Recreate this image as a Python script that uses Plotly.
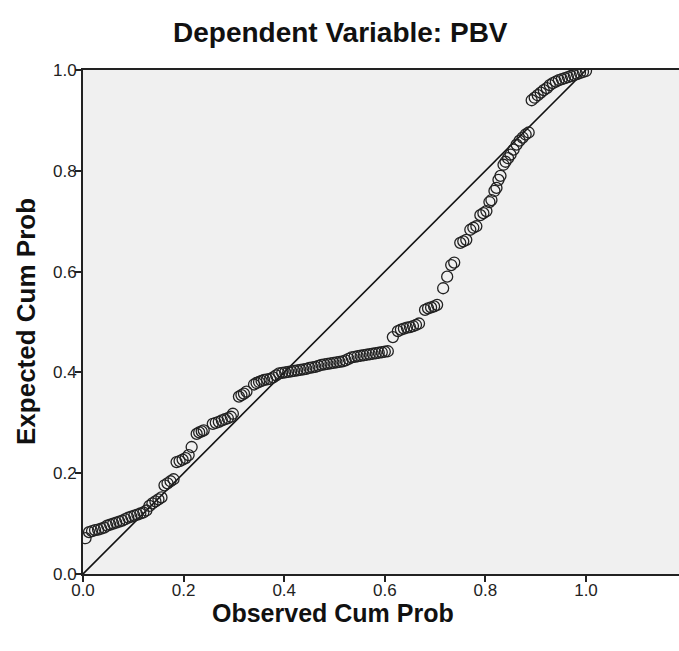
import plotly.graph_objects as go

observed = [
    0.005, 0.012, 0.018, 0.024, 0.030, 0.036, 0.042, 0.048, 0.054, 0.060,
    0.066, 0.072, 0.078, 0.084, 0.090, 0.096, 0.102, 0.108, 0.114, 0.120,
    0.126, 0.132, 0.138, 0.144, 0.150, 0.156, 0.162, 0.168, 0.174, 0.180,
    0.186, 0.192, 0.198, 0.204, 0.210, 0.216, 0.226, 0.231, 0.236, 0.240,
    0.258, 0.264, 0.270, 0.276, 0.282, 0.288, 0.294, 0.298,
    0.310, 0.315, 0.320, 0.325, 0.340, 0.345, 0.350, 0.355, 0.360, 0.366,
    0.372, 0.378, 0.384, 0.390, 0.396, 0.402, 0.408, 0.414, 0.420, 0.426,
    0.432, 0.438, 0.444, 0.450, 0.456, 0.462, 0.468, 0.474, 0.480, 0.486,
    0.492, 0.498, 0.504, 0.510, 0.516, 0.522, 0.528, 0.534, 0.540, 0.546,
    0.552, 0.558, 0.564, 0.570, 0.576, 0.582, 0.588, 0.594, 0.600, 0.606,
    0.616, 0.626, 0.632, 0.638, 0.644, 0.650, 0.656, 0.662, 0.668,
    0.680, 0.686, 0.692, 0.698, 0.704, 0.716, 0.724, 0.732, 0.738,
    0.750, 0.756, 0.762, 0.770, 0.776, 0.782, 0.790, 0.796, 0.802,
    0.808, 0.812, 0.818, 0.822, 0.826, 0.830, 0.836, 0.840, 0.845, 0.850,
    0.856, 0.862, 0.868, 0.874, 0.880, 0.886,
    0.892, 0.898, 0.904, 0.910, 0.916, 0.922, 0.928, 0.934, 0.940, 0.946,
    0.952, 0.958, 0.964, 0.970, 0.976, 0.982, 0.988, 0.994, 1.000,
]

expected = [
    0.071, 0.083, 0.085, 0.087, 0.088, 0.090, 0.092, 0.096, 0.098, 0.100,
    0.102, 0.104, 0.106, 0.109, 0.112, 0.114, 0.116, 0.118, 0.120, 0.122,
    0.126, 0.135, 0.140, 0.144, 0.148, 0.152, 0.176, 0.180, 0.184, 0.188,
    0.222, 0.224, 0.227, 0.230, 0.236, 0.252, 0.278, 0.281, 0.283, 0.285,
    0.298, 0.300, 0.302, 0.305, 0.307, 0.309, 0.312, 0.318,
    0.352, 0.355, 0.358, 0.362, 0.376, 0.379, 0.381, 0.383, 0.385, 0.386,
    0.387, 0.390, 0.394, 0.398, 0.399, 0.400, 0.401, 0.402, 0.403, 0.404,
    0.405, 0.406, 0.407, 0.409, 0.410, 0.411, 0.413, 0.415, 0.416, 0.417,
    0.418, 0.419, 0.420, 0.421, 0.422, 0.424, 0.427, 0.430, 0.431, 0.432,
    0.433, 0.434, 0.435, 0.436, 0.437, 0.438, 0.439, 0.440, 0.441, 0.442,
    0.470, 0.482, 0.485, 0.487, 0.489, 0.490, 0.492, 0.494, 0.497,
    0.524, 0.527, 0.529, 0.531, 0.534, 0.567, 0.590, 0.613, 0.618,
    0.657, 0.660, 0.663, 0.683, 0.687, 0.690, 0.712, 0.716, 0.720,
    0.738, 0.742, 0.760, 0.766, 0.782, 0.790, 0.812, 0.818, 0.825, 0.832,
    0.842, 0.852, 0.860, 0.866, 0.872, 0.876,
    0.940, 0.945, 0.950, 0.955, 0.960, 0.964, 0.970, 0.974, 0.977, 0.980,
    0.982, 0.984, 0.986, 0.988, 0.990, 0.992, 0.994, 0.996, 0.998,
]

diag = [0.0, 1.0]
tick_vals = [0.0, 0.2, 0.4, 0.6, 0.8, 1.0]
tick_text = ["0.0", "0.2", "0.4", "0.6", "0.8", "1.0"]

fig = go.Figure()
fig.add_trace(go.Scatter(
    x=diag, y=diag, mode="lines",
    line=dict(color="#111111", width=1.6),
    showlegend=False, hoverinfo="skip",
))
fig.add_trace(go.Scatter(
    x=observed, y=expected, mode="markers",
    marker=dict(symbol="circle-open", size=11, color="#222222",
                line=dict(color="#222222", width=1.3)),
    showlegend=False,
))

W, H = 679, 651
L, T, PW, PH = 83, 70, 596, 504
UNIT = 503  # pixels per 1.0 on the x axis
font_main = "Liberation Sans, Arial, sans-serif"
fig.update_layout(
    width=W, height=H,
    margin=dict(l=L, r=W - L - PW, t=T, b=H - T - PH, pad=0),
    paper_bgcolor="white",
    plot_bgcolor="#f0f0f0",
    font=dict(family=font_main, color="#222222", size=17),
    annotations=[
        dict(text="<b>Dependent Variable: PBV</b>", xref="paper", yref="paper",
             x=(340 - L) / PW, y=(T + PH - 32) / PH, xanchor="center", yanchor="middle",
             showarrow=False, font=dict(size=28, family=font_main, color="#111111")),
        dict(text="<b>Observed Cum Prob</b>", xref="paper", yref="paper",
             x=(333 - L) / PW, y=-(613 - T - PH) / PH, xanchor="center", yanchor="middle",
             showarrow=False, font=dict(size=25, family=font_main, color="#111111")),
        dict(text="<b>Expected Cum Prob</b>", xref="paper", yref="paper",
             x=-(L - 26) / PW, y=0.5, xanchor="center", yanchor="middle", textangle=-90,
             showarrow=False, font=dict(size=26, family=font_main, color="#111111")),
    ],
)
fig.update_xaxes(
    range=[0, PW / UNIT], tickvals=tick_vals, ticktext=tick_text,
    showgrid=False, zeroline=False,
    showline=True, linecolor="#222222", linewidth=2, mirror=True,
    ticks="outside", ticklen=6, tickwidth=2, tickcolor="#222222",
    tickfont=dict(size=17, color="#222222"), ticklabelstandoff=-6,
)
fig.update_yaxes(
    range=[0, 1.0], tickvals=tick_vals, ticktext=tick_text,
    showgrid=False, zeroline=False,
    showline=True, linecolor="#222222", linewidth=2,
    ticks="outside", ticklen=6, tickwidth=2, tickcolor="#222222",
    tickfont=dict(size=17, color="#222222"), ticklabelstandoff=-5,
)

fig.write_html(
    "out.html",
    config={"displayModeBar": False},
    post_script="document.body.style.margin='0';document.body.style.overflow='hidden';",
)
